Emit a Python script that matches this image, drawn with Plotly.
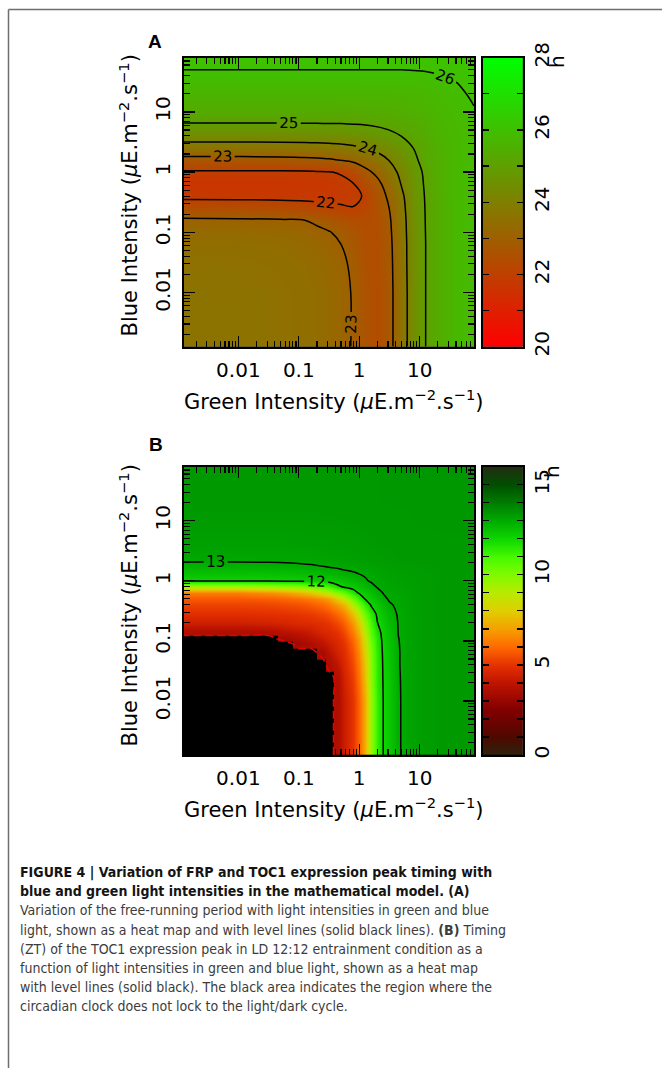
import math
import plotly.graph_objects as go

W, H = 662, 1068

# ---------------- data ----------------
# Panel A: free-running period (h); nodes are log10 of light intensity (uE m^-2 s^-1)
green_log_A = [-2.9, -2.0, -1.3, -0.9, -0.7, -0.5, -0.3, -0.1, 0.1, 0.3, 0.5, 0.7, 0.9, 1.1, 1.3, 1.6, 1.9]
blue_log_A = [-2.9, -2.0, -1.5, -1.2, -1.0, -0.8, -0.6, -0.4, -0.2, 0.0, 0.2, 0.4, 0.6, 0.8, 1.0, 1.3, 1.6, 1.9]
period_A = [
    [23.6, 23.6, 23.53, 23.47, 23.4, 23.3, 23.2, 22.95, 22.6, 22.4, 22.75, 23.6, 24.45, 25.0, 25.4, 25.75, 25.85],
    [23.6, 23.6, 23.53, 23.45, 23.4, 23.3, 23.2, 22.95, 22.6, 22.4, 22.75, 23.6, 24.45, 25.0, 25.4, 25.75, 25.85],
    [23.55, 23.53, 23.47, 23.4, 23.33, 23.24, 23.12, 22.88, 22.54, 22.41, 22.78, 23.63, 24.47, 25.0, 25.4, 25.75, 25.85],
    [23.45, 23.44, 23.4, 23.3, 23.22, 23.12, 23.0, 22.75, 22.5, 22.42, 22.82, 23.64, 24.47, 25.0, 25.4, 25.75, 25.85],
    [23.35, 23.33, 23.28, 23.2, 23.12, 23.03, 22.88, 22.66, 22.45, 22.43, 22.86, 23.67, 24.48, 25.01, 25.4, 25.75, 25.85],
    [23.1, 23.08, 23.05, 23.0, 22.9, 22.75, 22.6, 22.45, 22.38, 22.49, 22.91, 23.7, 24.5, 25.02, 25.4, 25.75, 25.85],
    [22.5, 22.48, 22.4, 22.3, 22.22, 22.15, 22.08, 22.02, 22.2, 22.54, 23.01, 23.75, 24.55, 25.03, 25.41, 25.75, 25.85],
    [21.8, 21.8, 21.8, 21.8, 21.8, 21.8, 21.82, 21.88, 22.05, 22.6, 23.15, 23.85, 24.57, 25.05, 25.42, 25.75, 25.85],
    [21.65, 21.65, 21.67, 21.7, 21.72, 21.76, 21.85, 21.97, 22.4, 22.8, 23.37, 24.04, 24.65, 25.08, 25.43, 25.75, 25.85],
    [21.9, 21.9, 21.9, 21.92, 21.95, 21.98, 22.05, 22.3, 22.8, 23.17, 23.65, 24.21, 24.71, 25.12, 25.44, 25.75, 25.85],
    [22.75, 22.75, 22.78, 22.82, 22.86, 22.92, 23.02, 23.16, 23.37, 23.65, 24.03, 24.47, 24.85, 25.26, 25.46, 25.75, 25.86],
    [23.6, 23.6, 23.62, 23.64, 23.67, 23.71, 23.76, 23.86, 23.99, 24.19, 24.45, 24.71, 25.01, 25.31, 25.51, 25.76, 25.87],
    [24.4, 24.4, 24.4, 24.42, 24.43, 24.45, 24.48, 24.53, 24.59, 24.69, 24.83, 25.01, 25.23, 25.4, 25.6, 25.77, 25.87],
    [24.97, 24.97, 24.97, 24.98, 24.98, 24.99, 24.99, 25.01, 25.04, 25.1, 25.18, 25.28, 25.38, 25.49, 25.65, 25.78, 25.88],
    [25.35, 25.35, 25.35, 25.35, 25.35, 25.35, 25.36, 25.37, 25.38, 25.4, 25.42, 25.46, 25.54, 25.61, 25.7, 25.85, 25.97],
    [25.65, 25.65, 25.65, 25.65, 25.65, 25.65, 25.65, 25.65, 25.66, 25.66, 25.66, 25.67, 25.68, 25.72, 25.8, 25.92, 26.06],
    [25.95, 25.95, 25.95, 25.95, 25.95, 25.95, 25.95, 25.95, 25.95, 25.95, 25.95, 25.95, 25.96, 25.97, 25.99, 26.04, 26.1],
    [26.1, 26.1, 26.1, 26.1, 26.1, 26.1, 26.1, 26.1, 26.1, 26.1, 26.1, 26.1, 26.1, 26.1, 26.11, 26.12, 26.13],
]

# Panel B: TOC1 peak timing (ZT, h); None = clock not locked (black area)
N = None
green_log_B = [-2.9, -2.0, -1.5, -1.2, -1.0, -0.8, -0.6, -0.5, -0.35, -0.25, -0.1, 0.0, 0.1, 0.2, 0.3, 0.4, 0.5, 0.65, 0.8, 1.0, 1.4, 1.9]
blue_log_B = [-2.9, -2.0, -1.6, -1.4, -1.2, -1.05, -0.97, -0.85, -0.7, -0.55, -0.4, -0.3, -0.2, -0.1, 0.0, 0.1, 0.2, 0.35, 0.6, 1.0, 1.4, 1.9]
peak_B = [
    [N, N, N, N, N, N, N, N, 3.6, 4.3, 5.0, 5.9, 7.3, 9.6, 11.3, 12.02, 12.35, 12.95, 13.15, 13.3, 13.4, 13.4],
    [N, N, N, N, N, N, N, N, 3.6, 4.3, 5.0, 5.9, 7.3, 9.6, 11.3, 12.02, 12.35, 12.95, 13.15, 13.3, 13.4, 13.4],
    [N, N, N, N, N, N, N, N, 3.7, 4.5, 5.25, 6.2, 7.7, 9.85, 11.4, 12.06, 12.37, 12.96, 13.15, 13.3, 13.4, 13.4],
    [N, N, N, N, N, N, N, 3.5, 4.1, 4.66, 5.43, 6.38, 7.9, 9.89, 11.38, 12.08, 12.41, 12.97, 13.16, 13.3, 13.4, 13.4],
    [N, N, N, N, N, N, 3.4, 3.9, 4.54, 4.83, 5.63, 6.63, 8.2, 10.06, 11.44, 12.11, 12.43, 12.97, 13.16, 13.3, 13.4, 13.4],
    [N, N, N, N, 3.3, 3.6, 4.0, 4.32, 4.71, 4.99, 5.86, 6.86, 8.52, 10.25, 11.52, 12.15, 12.47, 12.98, 13.17, 13.3, 13.4, 13.4],
    [N, N, N, 3.3, 3.6, 3.9, 4.26, 4.52, 4.83, 5.15, 6.04, 7.02, 8.71, 10.41, 11.57, 12.18, 12.5, 12.99, 13.17, 13.3, 13.4, 13.4],
    [3.6, 3.6, 3.65, 3.95, 4.06, 4.3, 4.68, 4.75, 5.03, 5.42, 6.37, 7.48, 9.06, 10.7, 11.74, 12.22, 12.54, 13.02, 13.17, 13.3, 13.4, 13.4],
    [4.4, 4.4, 4.5, 4.6, 4.76, 4.8, 4.94, 5.07, 5.44, 5.86, 6.88, 8.11, 9.64, 11.05, 11.98, 12.32, 12.65, 13.03, 13.18, 13.3, 13.4, 13.4],
    [4.9, 4.9, 4.95, 5.0, 5.05, 5.17, 5.38, 5.55, 6.02, 6.46, 7.72, 9.01, 10.43, 11.52, 12.14, 12.45, 12.8, 13.05, 13.18, 13.31, 13.4, 13.4],
    [5.3, 5.3, 5.35, 5.46, 5.55, 5.73, 6.0, 6.29, 6.91, 7.46, 9.07, 10.32, 11.34, 12.09, 12.35, 12.7, 12.95, 13.08, 13.2, 13.31, 13.4, 13.4],
    [5.7, 5.7, 5.78, 5.94, 6.09, 6.33, 6.73, 7.01, 8.09, 8.88, 10.3, 11.25, 12.06, 12.3, 12.6, 12.9, 13.05, 13.12, 13.2, 13.31, 13.4, 13.4],
    [6.4, 6.4, 6.7, 7.03, 7.38, 7.87, 8.64, 9.13, 9.94, 10.5, 11.6, 12.11, 12.3, 12.55, 12.85, 13.02, 13.08, 13.15, 13.22, 13.31, 13.4, 13.4],
    [9.3, 9.3, 9.5, 9.73, 9.93, 10.26, 10.75, 11.07, 11.82, 12.11, 12.3, 12.5, 12.7, 12.88, 13.03, 13.1, 13.14, 13.2, 13.25, 13.31, 13.4, 13.4],
    [12.1, 12.1, 12.12, 12.14, 12.16, 12.2, 12.25, 12.3, 12.4, 12.5, 12.65, 12.8, 12.95, 13.05, 13.12, 13.16, 13.2, 13.24, 13.28, 13.32, 13.38, 13.4],
    [12.45, 12.45, 12.47, 12.5, 12.53, 12.57, 12.64, 12.68, 12.77, 12.83, 12.92, 12.98, 13.04, 13.1, 13.15, 13.19, 13.22, 13.26, 13.3, 13.33, 13.38, 13.4],
    [12.75, 12.75, 12.77, 12.8, 12.83, 12.87, 12.93, 12.96, 12.99, 13.04, 13.08, 13.12, 13.16, 13.19, 13.22, 13.25, 13.27, 13.3, 13.32, 13.35, 13.38, 13.4],
    [13.08, 13.08, 13.09, 13.1, 13.12, 13.14, 13.17, 13.19, 13.21, 13.23, 13.26, 13.28, 13.3, 13.31, 13.33, 13.34, 13.35, 13.37, 13.38, 13.39, 13.4, 13.4],
    [13.25, 13.25, 13.25, 13.26, 13.27, 13.28, 13.29, 13.3, 13.31, 13.32, 13.33, 13.34, 13.35, 13.36, 13.37, 13.38, 13.38, 13.39, 13.4, 13.4, 13.41, 13.41],
    [13.35, 13.35, 13.35, 13.35, 13.35, 13.35, 13.36, 13.36, 13.37, 13.37, 13.38, 13.38, 13.39, 13.39, 13.4, 13.4, 13.4, 13.41, 13.41, 13.42, 13.42, 13.42],
    [13.4, 13.4, 13.4, 13.4, 13.4, 13.4, 13.4, 13.4, 13.4, 13.4, 13.4, 13.41, 13.41, 13.41, 13.41, 13.42, 13.42, 13.42, 13.42, 13.43, 13.43, 13.43],
    [13.4, 13.4, 13.4, 13.4, 13.4, 13.4, 13.4, 13.4, 13.4, 13.4, 13.41, 13.41, 13.41, 13.41, 13.41, 13.42, 13.42, 13.42, 13.42, 13.43, 13.43, 13.43],
]

TICK_EXP = [-2, -1, 0, 1]
TICK_TEXT = ["0.01", "0.1", "1", "10"]
AXIS_RANGE = [-2.9, 1.9]
CB_A_RANGE = [20, 28]
CB_A_TICKS = [20, 22, 24, 26, 28]
CB_B_RANGE = [0, 16]
CB_B_TICKS = [0, 5, 10, 15]
LEVELS_A = dict(start=22, end=26, size=1)
LEVELS_B = dict(start=12, end=13, size=1)

CAPTION = [
    ("<b>FIGURE 4 | Variation of FRP and TOC1 expression peak timing with</b>", True),
    ("<b>blue and green light intensities in the mathematical model. (A)</b>", True),
    ("Variation of the free-running period with light intensities in green and blue", False),
    ("light, shown as a heat map and with level lines (solid black lines). <b>(B)</b> Timing", False),
    ("(ZT) of the TOC1 expression peak in LD 12:12 entrainment condition as a", False),
    ("function of light intensities in green and blue light, shown as a heat map", False),
    ("with level lines (solid black). The black area indicates the region where the", False),
    ("circadian clock does not lock to the light/dark cycle.", False),
]

# ---------------- styling ----------------
FONT = "DejaVu Sans"
CAP_FONT = "Liberation Sans Narrow, DejaVu Sans Condensed, Liberation Sans, sans-serif"
SCALE_A = [[0, "rgb(255,0,0)"], [1, "rgb(0,255,0)"]]
SCALE_B = [
    [0 / 16, "rgb(45,35,15)"], [1 / 16, "rgb(80,8,0)"], [2.5 / 16, "rgb(130,0,0)"],
    [4 / 16, "rgb(190,20,0)"], [5 / 16, "rgb(230,50,0)"], [6 / 16, "rgb(255,105,0)"],
    [7 / 16, "rgb(245,160,0)"], [8 / 16, "rgb(225,205,0)"], [9 / 16, "rgb(185,235,0)"],
    [10 / 16, "rgb(130,250,0)"], [11 / 16, "rgb(70,250,0)"], [12 / 16, "rgb(15,215,0)"],
    [13 / 16, "rgb(0,172,0)"], [14 / 16, "rgb(0,125,0)"], [15 / 16, "rgb(0,80,0)"],
    [16 / 16, "rgb(35,45,20)"],
]


def px_x(v):
    return v / W


def px_y(v):
    return 1 - v / H


MINOR = [math.log10(k * 10 ** n) for n in range(-3, 2) for k in range(2, 10)]
MINOR = [m for m in MINOR if AXIS_RANGE[0] <= m <= AXIS_RANGE[1]]

# panel geometry (pixels)
PA = dict(x0=184, x1=474, y0=57.7, y1=346.7)
PB = dict(x0=184, x1=474, y0=466.7, y1=755)
CBX = (483, 522.7)


def dom_x(a, b):
    return [px_x(a), px_x(b)]


def dom_y(top, bottom):
    return [px_y(bottom), px_y(top)]


def main_axis(domain, anchor, is_y):
    d = dict(
        domain=domain, anchor=anchor, range=AXIS_RANGE, automargin=False,
        tickmode="array", tickvals=TICK_EXP, ticktext=TICK_TEXT,
        ticks="inside", ticklen=11, tickwidth=1.3, tickcolor="black",
        minor=dict(tickmode="array", tickvals=MINOR, ticks="inside", ticklen=6,
                   tickwidth=1.1, tickcolor="black", showgrid=False),
        showline=True, linecolor="black", linewidth=1.8, mirror="ticks",
        showgrid=False, zeroline=False, fixedrange=True,
        tickfont=dict(family=FONT, size=20, color="black"),
        ticklabelstandoff=4,
    )
    if is_y:
        d["tickangle"] = -90
    return d


def cb_xaxis(domain, anchor):
    return dict(domain=domain, anchor=anchor, range=[0, 1], showticklabels=False,
                automargin=False,
                ticks="", showline=True, linecolor="black", linewidth=1.8,
                mirror=True, showgrid=False, zeroline=False, fixedrange=True)


def cb_yaxis(domain, anchor, rng, ticks):
    return dict(domain=domain, anchor=anchor, side="right", range=rng, automargin=False,
                tickmode="array", tickvals=ticks, ticks="inside", ticklen=6,
                tickwidth=1.3, tickcolor="black",
                minor=dict(dtick=1, ticks="inside", ticklen=6, tickwidth=1.3,
                           tickcolor="black", showgrid=False),
                showline=True, linecolor="black", linewidth=1.8, mirror="ticks",
                showgrid=False, zeroline=False, fixedrange=True, tickangle=-90,
                tickfont=dict(family=FONT, size=20, color="black"),
                ticklabelstandoff=0)


fig = go.Figure()

# ---- Panel A ----
fig.add_trace(go.Heatmap(x=green_log_A, y=blue_log_A, z=period_A, zsmooth="best",
                         colorscale=SCALE_A, zmin=CB_A_RANGE[0], zmax=CB_A_RANGE[1],
                         showscale=False, hoverinfo="skip", xaxis="x", yaxis="y"))
fig.add_trace(go.Contour(x=green_log_A, y=blue_log_A, z=period_A,
                         contours=dict(coloring="none", showlabels=True,
                                       labelfont=dict(family=FONT, size=15, color="black"),
                                       **LEVELS_A),
                         line=dict(color="black", width=1.5), showscale=False,
                         hoverinfo="skip", xaxis="x", yaxis="y"))
fig.add_trace(go.Heatmap(x=[0, 1], y=CB_A_RANGE,
                         z=[[CB_A_RANGE[0], CB_A_RANGE[0]], [CB_A_RANGE[1], CB_A_RANGE[1]]],
                         zsmooth="best", colorscale=SCALE_A, zmin=CB_A_RANGE[0],
                         zmax=CB_A_RANGE[1], showscale=False, hoverinfo="skip",
                         xaxis="x2", yaxis="y2"))

# ---- Panel B ----
fig.add_trace(go.Heatmap(x=green_log_B, y=blue_log_B, z=peak_B, zsmooth="best",
                         colorscale=SCALE_B, zmin=CB_B_RANGE[0], zmax=CB_B_RANGE[1],
                         showscale=False, hoverinfo="skip", xaxis="x3", yaxis="y3"))
fig.add_trace(go.Contour(x=green_log_B, y=blue_log_B, z=peak_B,
                         contours=dict(coloring="none", showlabels=True,
                                       labelfont=dict(family=FONT, size=15, color="black"),
                                       **LEVELS_B),
                         line=dict(color="black", width=1.5), showscale=False,
                         hoverinfo="skip", xaxis="x3", yaxis="y3"))
locked_mask = [[0 if v is None else 1 for v in row] for row in peak_B]
fig.add_trace(go.Contour(x=green_log_B, y=blue_log_B, z=locked_mask,
                         contours=dict(coloring="none", start=0.5, end=0.5, size=1),
                         line=dict(color="rgb(230,0,0)", width=1.6, dash="8px,4px"),
                         showscale=False, hoverinfo="skip", xaxis="x3", yaxis="y3"))
fig.add_trace(go.Heatmap(x=[0, 1], y=CB_B_RANGE,
                         z=[[CB_B_RANGE[0], CB_B_RANGE[0]], [CB_B_RANGE[1], CB_B_RANGE[1]]],
                         zsmooth="best", colorscale=SCALE_B, zmin=CB_B_RANGE[0],
                         zmax=CB_B_RANGE[1], showscale=False, hoverinfo="skip",
                         xaxis="x4", yaxis="y4"))

yA = dom_y(PA["y0"], PA["y1"])
yB = dom_y(PB["y0"], PB["y1"])
layout = dict(
    width=W, height=H, margin=dict(l=0, r=0, t=0, b=0, autoexpand=False),
    paper_bgcolor="white", plot_bgcolor="black", showlegend=False,
    xaxis=main_axis(dom_x(PA["x0"], PA["x1"]), "y", False),
    yaxis=main_axis(yA, "x", True),
    xaxis2=cb_xaxis(dom_x(*CBX), "y2"),
    yaxis2=cb_yaxis(yA, "x2", CB_A_RANGE, CB_A_TICKS),
    xaxis3=main_axis(dom_x(PB["x0"], PB["x1"]), "y3", False),
    yaxis3=main_axis(yB, "x3", True),
    xaxis4=cb_xaxis(dom_x(*CBX), "y4"),
    yaxis4=cb_yaxis(yB, "x4", CB_B_RANGE, CB_B_TICKS),
)
fig.update_layout(**layout)

ann = []


def add_text(text, x, y, size, angle=0, family=FONT, color="black", xanchor="center"):
    ann.append(dict(text=text, x=px_x(x), y=px_y(y), xref="paper", yref="paper",
                    showarrow=False, textangle=angle, xanchor=xanchor, yanchor="middle",
                    font=dict(family=family, size=size, color=color)))


units = "(<i>μ</i>E.m<sup>−2</sup>.s<sup>−1</sup>)"
for xt_y, yt_y in [(400, 195.5), (808, 605.5)]:
    add_text("Green Intensity " + units, 333, xt_y, 21)
    add_text("Blue Intensity " + units, 128, yt_y, 21, angle=-90)
add_text("<b>A</b>", 155, 41, 19, family="Liberation Sans, Arial, sans-serif")
add_text("<b>B</b>", 155.5, 444.5, 19, family="Liberation Sans, Arial, sans-serif")
add_text("h", 557, 62, 20, angle=-90)
add_text("h", 552, 472, 20, angle=-90)

cap_y0, cap_dy = 872, 19.2
for i, (line, bold) in enumerate(CAPTION):
    add_text(line, 18, cap_y0 + i * cap_dy, 14 if bold else 14, family=CAP_FONT,
             color="rgb(20,20,20)" if bold else "rgb(60,60,60)", xanchor="left")

fig.update_layout(annotations=ann)

# frame lines around the figure panel
fig.add_shape(type="line", xref="paper", yref="paper", x0=px_x(8.5), x1=px_x(8.5),
              y0=0, y1=px_y(9.5), line=dict(color="rgb(110,110,110)", width=1.5))
fig.add_shape(type="line", xref="paper", yref="paper", x0=px_x(8.5), x1=1,
              y0=px_y(9.5), y1=px_y(9.5), line=dict(color="rgb(110,110,110)", width=1.5))

fig.write_html("out.html", config=dict(displayModeBar=False, staticPlot=True, responsive=False))
with open("out.html", "r", encoding="utf-8") as f:
    html = f.read()
style = ("<style>html,body{margin:0;padding:0;width:662px;height:1068px;overflow:hidden;}"
         ".plotly-graph-div{position:absolute !important;top:0;left:0;}</style>")
html = html.replace("<head>", "<head>" + style, 1)
with open("out.html", "w", encoding="utf-8") as f:
    f.write(html)
